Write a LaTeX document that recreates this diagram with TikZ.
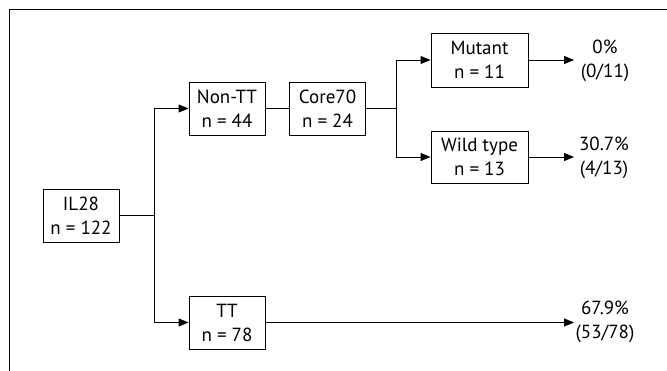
\documentclass[tikz,border=0pt]{standalone}
\usepackage{fontspec}
\setmainfont{PT Sans}
\usetikzlibrary{arrows.meta}
\begin{document}
\begin{tikzpicture}[x=1pt,y=-1pt,
  txt/.style={font=\fontsize{19}{24}\selectfont},
  box/.style={txt,draw,line width=0.9pt,minimum width=76pt,minimum height=53pt,align=center,inner sep=0pt},
  wbox/.style={box,minimum width=97pt},
  lbl/.style={txt,align=center,inner sep=0pt},
  conn/.style={line width=0.9pt},
  arr/.style={conn,-{Triangle[length=10pt,width=8pt]}},
  frame/.style={line width=1pt}]
\useasboundingbox (0,0) rectangle (667,371);
\draw[frame] (9,371) -- (9,10) -- (667,10);
% nodes
\node[box] (il) at (81,215.5) {IL28\\n = 122};
\node[box] (nontt) at (227,108.5) {Non-TT\\n = 44};
\node[box] (core) at (327.5,108.5) {Core70\\n = 24};
\node[box] (tt) at (227,322.5) {TT\\n = 78};
\node[wbox,minimum height=54pt] (mut) at (479.5,60) {Mutant\\n = 11};
\node[wbox,minimum height=52pt] (wt) at (479.5,157) {Wild type\\n = 13};
\node[lbl] (l1) at (605,61) {0\%\\(0/11)};
\node[lbl] (l2) at (604,158) {30.7\%\\(4/13)};
\node[lbl] (l3) at (605,322) {67.9\%\\(53/78)};
% junctions and arrow ends
\coordinate (s1) at (154,215.5);
\coordinate (s2) at (396,108.5);
\coordinate (t1) at (574,60);
\coordinate (t2) at (574,157);
\coordinate (t3) at (574,322.5);
% connectors
\draw[conn] (il.east) -- (s1);
\draw[arr] (s1) |- (nontt.west);
\draw[arr] (s1) |- (tt.west);
\draw[conn] (nontt.east) -- (core.west);
\draw[conn] (core.east) -- (s2);
\draw[arr] (s2) |- (mut.west);
\draw[arr] (s2) |- (wt.west);
\draw[arr] (mut.east) -- (t1);
\draw[arr] (wt.east) -- (t2);
\draw[arr] (tt.east) -- (t3);
\end{tikzpicture}
\end{document}
